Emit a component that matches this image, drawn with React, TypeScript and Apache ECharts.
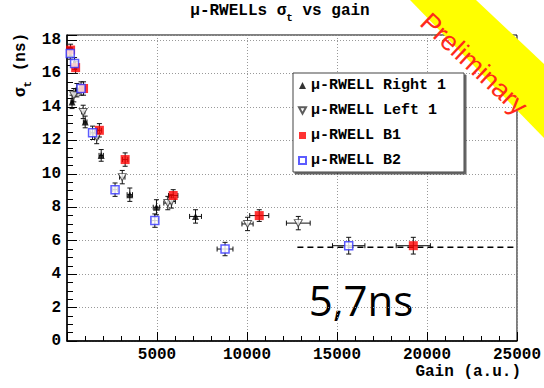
import React, { useEffect, useRef } from "react";
import * as echarts from "echarts";

// ---- data ----
const right1Gain = [280, 550, 1010, 1900, 3490, 4970, 7140];
const right1Sigma = [14.3, 15.0, 13.1, 11.1, 8.75, 8.0, 7.45];
const right1GainErr = [60, 80, 100, 120, 150, 180, 330];
const right1SigmaErr = [0.4, 0.4, 0.35, 0.35, 0.4, 0.45, 0.4];

const left1Gain = [380, 900, 1650, 3070, 5600, 5800, 10030, 12850];
const left1Sigma = [14.7, 13.7, 12.2, 9.8, 8.25, 8.35, 7.0, 7.05];
const left1GainErr = [60, 90, 110, 150, 220, 220, 310, 660];
const left1SigmaErr = [0.4, 0.4, 0.4, 0.4, 0.4, 0.4, 0.4, 0.4];

const b1Gain = [200, 480, 920, 1800, 3230, 5900, 10680, 19240];
const b1Sigma = [17.4, 16.35, 15.1, 12.6, 10.85, 8.7, 7.5, 5.7];
const b1GainErr = [50, 60, 90, 110, 150, 260, 530, 950];
const b1SigmaErr = [0.35, 0.35, 0.4, 0.4, 0.4, 0.35, 0.35, 0.5];

const b2Gain = [180, 420, 780, 1420, 2670, 4880, 8780, 15650];
const b2Sigma = [17.2, 16.6, 15.1, 12.45, 9.05, 7.2, 5.5, 5.7];
const b2GainErr = [50, 60, 80, 100, 130, 180, 440, 900];
const b2SigmaErr = [0.35, 0.35, 0.4, 0.4, 0.4, 0.4, 0.4, 0.5];

const fitLevel = 5.6;
const fitRange = [12800, 25000];

const seriesNames = ["μ-RWELL Right 1", "μ-RWELL Left 1", "μ-RWELL B1", "μ-RWELL B2"];
const xTicks = { min: 0, max: 25000, interval: 5000 };
const yTicks = { min: 0, max: 18.3, interval: 2 };

const MONO = "'Liberation Mono', 'DejaVu Sans Mono', monospace";

function errorSeries(name: string, gain: number[], sigma: number[], gx: number[], sy: number[]) {
  return {
    type: "custom",
    name: name + " err",
    silent: true,
    z: 1,
    data: gain.map((g, i) => [g, sigma[i], gx[i], sy[i]]),
    renderItem: (_p: any, api: any) => {
      const x = api.value(0);
      const y = api.value(1);
      const ex = api.value(2);
      const ey = api.value(3);
      const l = api.coord([x - ex, y]);
      const r = api.coord([x + ex, y]);
      const t = api.coord([x, y + ey]);
      const b = api.coord([x, y - ey]);
      const cap = 2.5;
      const style = { stroke: "#111", lineWidth: 1 };
      return {
        type: "group",
        children: [
          { type: "line", shape: { x1: l[0], y1: l[1], x2: r[0], y2: r[1] }, style },
          { type: "line", shape: { x1: t[0], y1: t[1], x2: b[0], y2: b[1] }, style },
          { type: "line", shape: { x1: t[0] - cap, y1: t[1], x2: t[0] + cap, y2: t[1] }, style },
          { type: "line", shape: { x1: b[0] - cap, y1: b[1], x2: b[0] + cap, y2: b[1] }, style },
          { type: "line", shape: { x1: l[0], y1: l[1] - cap, x2: l[0], y2: l[1] + cap }, style },
          { type: "line", shape: { x1: r[0], y1: r[1] - cap, x2: r[0], y2: r[1] + cap }, style },
        ],
      };
    },
  };
}

const zip = (a: number[], b: number[]) => a.map((v, i) => [v, b[i]]);

export default function App() {
  const ref = useRef<HTMLDivElement>(null);
  useEffect(() => {
    document.body.style.margin = "0";
    const chart = echarts.init(ref.current!, null, { renderer: "svg" });
    chart.setOption({
      animation: false,
      backgroundColor: "#fff",
      grid: {
        left: 67,
        right: 25,
        top: 35,
        bottom: 47,
        show: true,
        borderColor: "#000",
        borderWidth: 1,
        backgroundColor: "transparent",
      },
      xAxis: {
        type: "value",
        min: xTicks.min,
        max: xTicks.max,
        interval: xTicks.interval,
        axisLine: { onZero: false, lineStyle: { color: "#000", width: 1.5 } },
        axisTick: { inside: true, length: 9, lineStyle: { color: "#000" } },
        minorTick: { show: true, splitNumber: 5, length: 5, lineStyle: { color: "#000" } },
        splitLine: { show: true, lineStyle: { color: "#999", type: [1, 2], width: 1 } },
        axisLabel: {
          showMinLabel: false,
          margin: 6,
          fontFamily: MONO,
          fontWeight: "bold",
          fontSize: 16,
          color: "#000",
          formatter: (v: number) => String(Math.round(v)),
        },
      },
      yAxis: {
        type: "value",
        min: yTicks.min,
        max: yTicks.max,
        interval: yTicks.interval,
        axisLine: { onZero: false, lineStyle: { color: "#000", width: 1.5 } },
        axisTick: { inside: true, length: 10, lineStyle: { color: "#000" } },
        minorTick: { show: true, splitNumber: 4, length: 6, lineStyle: { color: "#000" } },
        splitLine: { show: true, lineStyle: { color: "#999", type: [1, 2], width: 1 } },
        axisLabel: {
          showMaxLabel: false,
          margin: 6,
          fontFamily: MONO,
          fontWeight: "bold",
          fontSize: 16,
          color: "#000",
          formatter: (v: number) => (Math.abs(v - Math.round(v)) < 1e-6 ? String(Math.round(v)) : ""),
        },
      },
      legend: {
        data: seriesNames,
        orient: "vertical",
        left: 293,
        top: 73,
        padding: [5, 18, 4, 5],
        itemGap: 10,
        itemWidth: 7,
        itemHeight: 7,
        backgroundColor: "#fff",
        borderColor: "#444",
        borderWidth: 1,
        shadowColor: "rgba(0,0,0,0.6)",
        shadowOffsetX: 2,
        shadowOffsetY: 2,
        shadowBlur: 0,
        textStyle: { fontFamily: MONO, fontWeight: "bold", fontSize: 15, color: "#000", lineHeight: 14 },
      },
      series: [
        errorSeries("r1", right1Gain, right1Sigma, right1GainErr, right1SigmaErr),
        errorSeries("l1", left1Gain, left1Sigma, left1GainErr, left1SigmaErr),
        errorSeries("b1", b1Gain, b1Sigma, b1GainErr, b1SigmaErr),
        errorSeries("b2", b2Gain, b2Sigma, b2GainErr, b2SigmaErr),
        {
          type: "line",
          name: "fit",
          data: [
            [fitRange[0], fitLevel],
            [fitRange[1], fitLevel],
          ],
          symbol: "none",
          lineStyle: { color: "#000", width: 1.5, type: [6, 4] },
          z: 1,
        },
        {
          type: "scatter",
          name: seriesNames[0],
          data: zip(right1Gain, right1Sigma),
          symbol: "triangle",
          symbolSize: 7,
          itemStyle: { color: "#000" },
          z: 3,
        },
        {
          type: "scatter",
          name: seriesNames[1],
          data: zip(left1Gain, left1Sigma),
          symbol: "path://M0,0 L10,0 L5,9 Z",
          symbolSize: [8, 7],
          itemStyle: { color: "#fff", borderColor: "#333", borderWidth: 1 },
          z: 3,
        },
        {
          type: "scatter",
          name: seriesNames[2],
          data: zip(b1Gain, b1Sigma),
          symbol: "rect",
          symbolSize: 9,
          itemStyle: { color: "#ff0000" },
          z: 3,
        },
        {
          type: "scatter",
          name: seriesNames[3],
          data: zip(b2Gain, b2Sigma),
          symbol: "rect",
          symbolSize: 8,
          itemStyle: { color: "#fff", borderColor: "#3333ff", borderWidth: 1.5 },
          z: 3,
        },
      ],
      graphic: [
        {
          type: "text",
          x: 280,
          y: 3,
          style: {
            text: "{a|μ-RWELLs σ}{s|t}{a| vs gain}",
            align: "center",
            verticalAlign: "top",
            rich: {
              a: { fontFamily: MONO, fontWeight: "bold", fontSize: 16, lineHeight: 16, verticalAlign: "top", fill: "#000" },
              s: { fontFamily: MONO, fontWeight: "bold", fontSize: 11, lineHeight: 11, padding: [9, 0, 0, 0], verticalAlign: "top", fill: "#000" },
            },
          },
        },
        {
          type: "text",
          x: 21,
          y: 65,
          rotation: Math.PI / 2,
          style: {
            text: "{a|σ}{s|t}{a| (ns)}",
            align: "center",
            verticalAlign: "middle",
            rich: {
              a: { fontFamily: MONO, fontWeight: "bold", fontSize: 16, lineHeight: 16, verticalAlign: "top", fill: "#000" },
              s: { fontFamily: MONO, fontWeight: "bold", fontSize: 11, lineHeight: 11, padding: [9, 0, 0, 0], verticalAlign: "top", fill: "#000" },
            },
          },
        },
        {
          type: "text",
          x: 521,
          y: 372,
          style: {
            text: "Gain (a.u.)",
            align: "right",
            verticalAlign: "middle",
            fontFamily: MONO,
            fontWeight: "bold",
            fontSize: 16,
            fill: "#000",
          },
        },
        {
          type: "text",
          x: 361,
          y: 299,
          style: {
            text: "5,7ns",
            align: "center",
            verticalAlign: "middle",
            fontFamily: "'Open Sans', sans-serif",
            fontSize: 42,
            fill: "#000",
          },
        },
        {
          type: "polygon",
          z: 100,
          shape: {
            points: [
              [410, 0],
              [476, 0],
              [544, 64],
              [544, 138],
            ],
          },
          style: { fill: "#ffff00" },
        },
        {
          type: "text",
          z: 101,
          x: 474,
          y: 64,
          rotation: (-43 * Math.PI) / 180,
          style: {
            text: "Preliminary",
            align: "center",
            verticalAlign: "middle",
            fontFamily: "'Liberation Sans', Arial, sans-serif",
            fontSize: 27,
            fill: "#ff2a1a",
          },
        },
      ],
    });
    return () => chart.dispose();
  }, []);
  return <div ref={ref} style={{ position: "fixed", left: 0, top: 0, width: 544, height: 388 }} />;
}
